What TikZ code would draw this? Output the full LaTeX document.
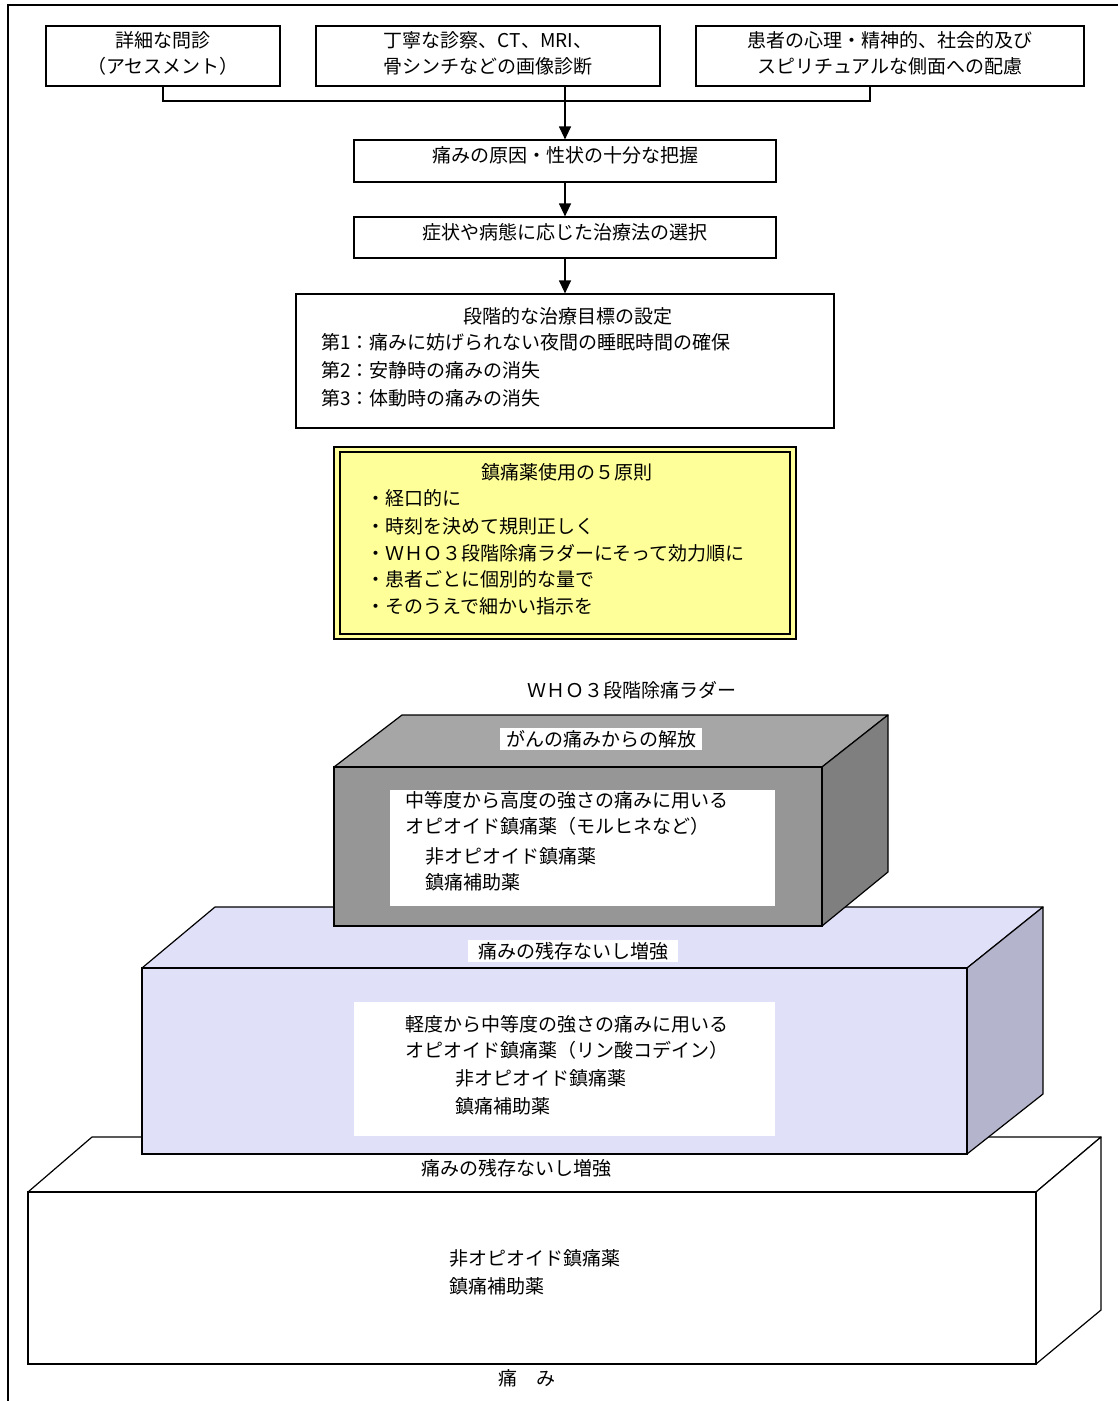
\documentclass[tikz,border=0pt]{standalone}
\usepackage{fontspec}
\setmainfont{Noto Sans CJK JP}
\usetikzlibrary{arrows.meta}
\definecolor{yell}{HTML}{FFFF99}
\definecolor{gtop}{HTML}{A6A6A6}
\definecolor{gfront}{HTML}{969696}
\definecolor{gside}{HTML}{7F7F7F}
\definecolor{lav}{HTML}{E0E0F8}
\definecolor{lavside}{HTML}{B4B4CC}
\begin{document}
\begin{tikzpicture}[x=1pt,y=-1pt,
  box/.style={draw, line width=1.2pt, inner sep=0pt},
  txt/.style={inner sep=0pt, font=\fontsize{19}{26}\selectfont},
  ltxt/.style={txt, anchor=west},
  arr/.style={line width=1.2pt, -{Triangle[width=12pt,length=13pt]}},
  face/.style={draw, line width=1.2pt, line join=round},
  lbl/.style={txt, fill=white, inner xsep=10pt, inner ysep=2pt}]
\useasboundingbox (0,0) rectangle (1118,1401);
\draw[line width=1.2pt] (8,1401) -- (8,5) -- (1118,5);

% top boxes
\node[box, minimum width=234pt, minimum height=60pt] (b1) at (163,56) {};
\node[txt, align=center] (t1) at (163,53) {詳細な問診\\（アセスメント）};
\node[box, minimum width=344pt, minimum height=60pt] (b2) at (488,56) {};
\node[txt, align=center] (t2) at (488,53) {丁寧な診察、CT、MRI、\\骨シンチなどの画像診断};
\node[box, minimum width=388pt, minimum height=60pt] (b3) at (890,56) {};
\node[txt, align=center] (t3) at (890,53) {患者の心理・精神的、社会的及び\\スピリチュアルな側面への配慮};

\node[box, minimum width=422pt, minimum height=42pt] (b4) at (565,161) {};
\node[txt] (t4) at (565,155) {痛みの原因・性状の十分な把握};
\node[box, minimum width=422pt, minimum height=41pt] (b5) at (565,237.5) {};
\node[txt] (t5) at (565,232) {症状や病態に応じた治療法の選択};
\node[box, minimum width=538pt, minimum height=134pt] (b6) at (565,361) {};
\node[txt] (t6) at (568,316) {段階的な治療目標の設定};
\node[ltxt] (t6a) at (321,342) {第1：痛みに妨げられない夜間の睡眠時間の確保};
\node[ltxt] (t6b) at (321,370) {第2：安静時の痛みの消失};
\node[ltxt] (t6c) at (321,398) {第3：体動時の痛みの消失};

\coordinate (j1) at (b1.south);
\coordinate (j3) at ([xshift=-20pt]b3.south);
\draw[line width=1.2pt] (j1) |- (870,101) -- (j3);
\draw[arr] (b2.south -| b4.north) -- (b4.north);
\draw[arr] (b4.south) -- (b5.north);
\draw[arr] (b5.south) -- (b6.north);

% yellow box
\node[box, fill=yell, minimum width=462pt, minimum height=192pt] (y1) at (565,543) {};
\node[box, minimum width=450pt, minimum height=182pt] (y2) at (565,543) {};
\node[txt] (yt) at (567,472) {鎮痛薬使用の５原則};
\node[ltxt] (ya) at (366,498) {・経口的に};
\node[ltxt] (yb) at (366,526) {・時刻を決めて規則正しく};
\node[ltxt] (yc) at (366,553) {・ＷＨＯ３段階除痛ラダーにそって効力順に};
\node[ltxt] (yd) at (366,579) {・患者ごとに個別的な量で};
\node[ltxt] (ye) at (366,606) {・そのうえで細かい指示を};

\node[txt] (who) at (632,690) {ＷＨＯ３段階除痛ラダー};

% bottom step
\filldraw[face, fill=white] (28,1192) -- (92,1137) -- (1101,1137) -- (1036,1192) -- cycle;
\filldraw[face, fill=white] (1036,1192) -- (1101,1137) -- (1101,1310) -- (1036,1364) -- cycle;
\node[box, fill=white, minimum width=1008pt, minimum height=172pt] (s1) at (532,1278) {};
\node[ltxt] (s1a) at (449,1258) {非オピオイド鎮痛薬};
\node[ltxt] (s1b) at (449,1286) {鎮痛補助薬};
\node[txt] (s1l) at (516,1168) {痛みの残存ないし増強};
\node[txt] (pain) at (527,1378) {痛　み};

% middle step
\filldraw[face, fill=lav] (142,968) -- (215,907) -- (1043,907) -- (967,968) -- cycle;
\filldraw[face, fill=lavside] (967,968) -- (1043,907) -- (1043,1094) -- (967,1154) -- cycle;
\node[box, fill=lav, minimum width=825pt, minimum height=186pt] (s2) at (554.5,1061) {};
\node[fill=white, minimum width=421pt, minimum height=134pt, inner sep=0pt] (s2w) at (564.5,1069) {};
\node[ltxt] (s2a) at (405,1024) {軽度から中等度の強さの痛みに用いる};
\node[ltxt] (s2b) at (405,1050) {オピオイド鎮痛薬（リン酸コデイン）};
\node[ltxt] (s2c) at (455,1078) {非オピオイド鎮痛薬};
\node[ltxt] (s2d) at (455,1106) {鎮痛補助薬};
\node[lbl] (s2l) at (573,951) {痛みの残存ないし増強};

% top step
\filldraw[face, fill=gtop] (334,767) -- (402,715) -- (888,715) -- (822,767) -- cycle;
\filldraw[face, fill=gside] (822,767) -- (888,715) -- (888,872) -- (822,926) -- cycle;
\node[box, fill=gfront, minimum width=488pt, minimum height=159pt] (s3) at (578,846.5) {};
\node[fill=white, minimum width=385pt, minimum height=116pt, inner sep=0pt] (s3w) at (582.5,848) {};
\node[ltxt] (s3a) at (405,800) {中等度から高度の強さの痛みに用いる};
\node[ltxt] (s3b) at (405,826) {オピオイド鎮痛薬（モルヒネなど）};
\node[ltxt] (s3c) at (425,856) {非オピオイド鎮痛薬};
\node[ltxt] (s3d) at (425,882) {鎮痛補助薬};
\node[lbl, inner xsep=6pt] (s3l) at (601,739) {がんの痛みからの解放};
\end{tikzpicture}
\end{document}
